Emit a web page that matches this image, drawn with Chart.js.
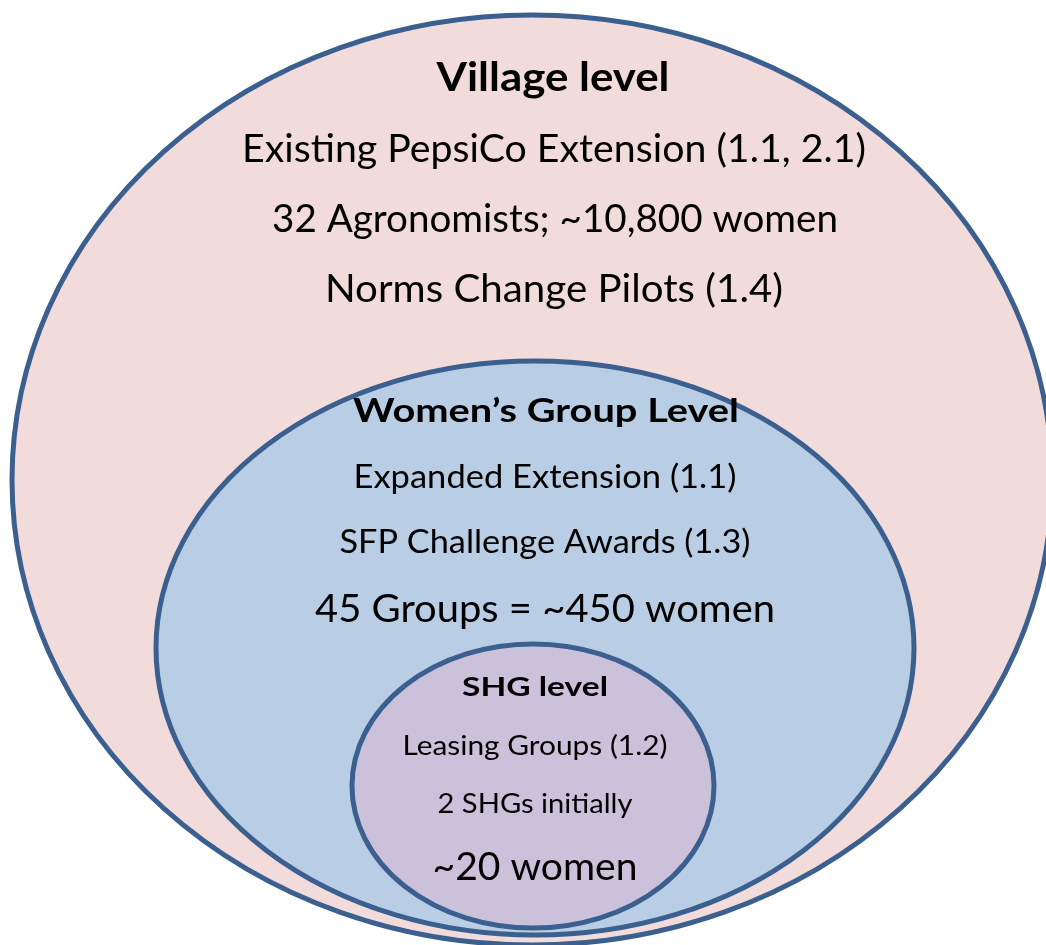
<!DOCTYPE html>
<html lang="en">
<head>
    <meta charset="UTF-8">
    <title>Village / Women's Group / SHG levels</title>
    <script src="https://cdn.jsdelivr.net/npm/chart.js"></script>
    <style>
        body, html {
            margin: 0;
            padding: 0;
            background: #ffffff;
            overflow: hidden;
        }
        canvas {
            display: block;
        }
    </style>
</head>
<body>
    <canvas id="levelsChart" width="1046" height="945"></canvas>

    <script>
        // nested levels, outer to inner
        const levelNames = ['Village level', 'Women\u2019s Group Level', 'SHG level'];
        const centerX = [532, 535, 533];
        const centerY = [480, 648, 786];
        const radiusX = [520, 379, 181];
        const radiusY = [465, 287, 142];

        const villageLines = ['Existing PepsiCo Extension (1.1, 2.1)', '32 Agronomists; ~10,800 women', 'Norms Change Pilots (1.4)'];
        const groupLines = ['Expanded Extension (1.1)', 'SFP Challenge Awards (1.3)', '45 Groups = ~450 women'];
        const shgLines = ['Leasing Groups (1.2)', '2 SHGs initially', '~20 women'];
        const levelLines = [villageLines, groupLines, shgLines];

        const fillColors = ['#f2dcdb', '#b9cde5', '#ccc1da'];
        const strokeColor = '#3b5f8e';

        // text layout: [x, y, font size, target width] for title then each line
        const textLayout = [
            [[553, 78, 40, 233], [554, 150, 38, 624], [555, 220, 38, 566], [554, 290, 38, 458]],
            [[546, 412, 32, 386], [545, 478, 32, 383], [545, 543, 32, 411], [545, 610, 38, 460]],
            [[535, 688, 26, 146], [535, 747, 26, 265], [535, 805, 26, 195], [535, 868, 38, 205]]
        ];

        function drawLine(ctx, text, px, py, size, bold, targetW) {
            ctx.save();
            ctx.font = (bold ? 'bold ' : '') + size + 'px Lato, "DejaVu Sans", sans-serif';
            const w = ctx.measureText(text).width;
            const sx = targetW / w;
            ctx.translate(px, py);
            ctx.scale(sx, 1);
            ctx.fillStyle = '#000000';
            ctx.textAlign = 'center';
            ctx.textBaseline = 'middle';
            ctx.fillText(text, 0, 0);
            ctx.restore();
        }

        const ellipsePlugin = {
            id: 'ellipses',
            beforeDatasetsDraw(chart) {
                const ctx = chart.ctx;
                const xs = chart.scales.x;
                const ys = chart.scales.y;
                levelNames.forEach((name, i) => {
                    const px = xs.getPixelForValue(centerX[i]);
                    const py = ys.getPixelForValue(centerY[i]);
                    const rx = Math.abs(xs.getPixelForValue(centerX[i] + radiusX[i]) - px);
                    const ry = Math.abs(ys.getPixelForValue(centerY[i] + radiusY[i]) - py);
                    ctx.save();
                    ctx.beginPath();
                    ctx.ellipse(px, py, rx, ry, 0, 0, Math.PI * 2);
                    ctx.fillStyle = fillColors[i];
                    ctx.fill();
                    ctx.lineWidth = 5;
                    ctx.strokeStyle = strokeColor;
                    ctx.stroke();
                    ctx.restore();
                });
            },
            afterDatasetsDraw(chart) {
                const ctx = chart.ctx;
                const xs = chart.scales.x;
                const ys = chart.scales.y;
                levelNames.forEach((name, i) => {
                    const lay = textLayout[i];
                    const t = lay[0];
                    drawLine(ctx, name, xs.getPixelForValue(t[0]), ys.getPixelForValue(t[1]), t[2], true, t[3]);
                    levelLines[i].forEach((line, j) => {
                        const l = lay[j + 1];
                        drawLine(ctx, line, xs.getPixelForValue(l[0]), ys.getPixelForValue(l[1]), l[2], false, l[3]);
                    });
                });
            }
        };

        const ctx = document.getElementById('levelsChart').getContext('2d');
        new Chart(ctx, {
            type: 'scatter',
            data: {
                datasets: levelNames.map((name, i) => ({
                    label: name,
                    data: [{ x: centerX[i], y: centerY[i] }],
                    pointRadius: 0,
                    pointHoverRadius: 0
                }))
            },
            options: {
                responsive: false,
                animation: false,
                layout: { padding: 0 },
                scales: {
                    x: { type: 'linear', min: 0, max: 1046, display: false },
                    y: { type: 'linear', min: 0, max: 945, reverse: true, display: false }
                },
                plugins: {
                    legend: { display: false },
                    tooltip: { enabled: false }
                }
            },
            plugins: [ellipsePlugin]
        });
    </script>
</body>
</html>
